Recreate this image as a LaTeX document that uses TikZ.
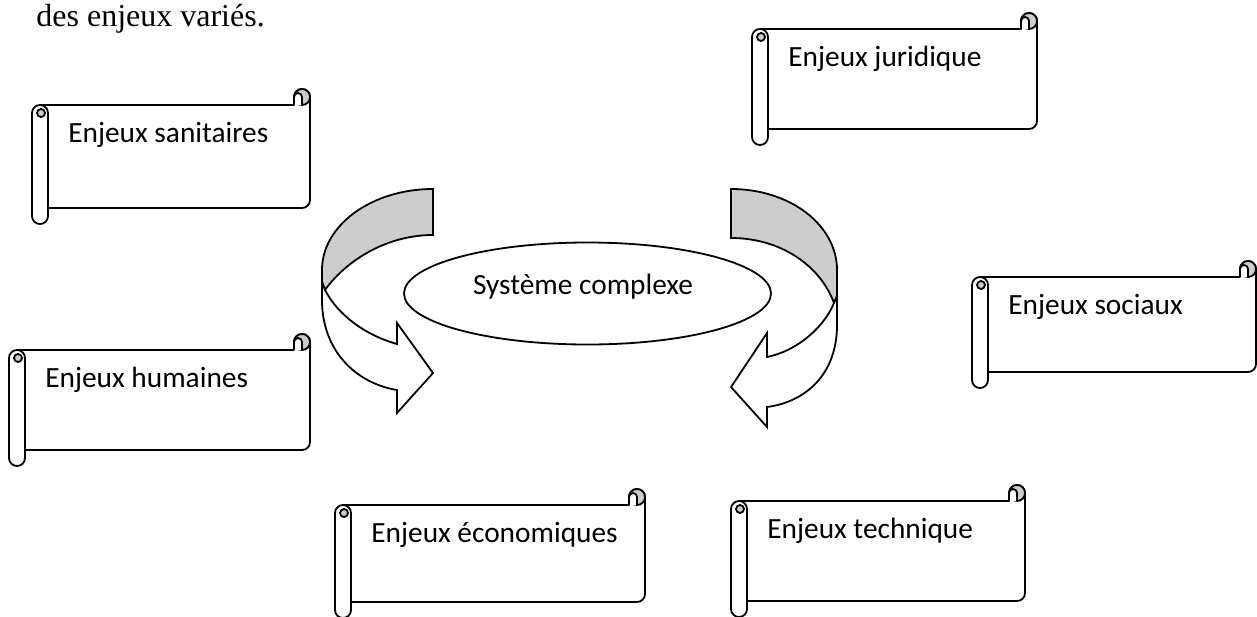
\documentclass[tikz,border=0pt]{standalone}
\usepackage{fontspec}
\setmainfont{Carlito}
\newfontfamily\timesfont{Liberation Serif}
\usetikzlibrary{shapes.geometric, positioning}
\definecolor{rollgray}{RGB}{205,205,205}

% parchemin : nom, gauche, haut, droite, bas, texte
\newcommand{\enjeuscroll}[6]{%
  % corps
  \filldraw[scrollline, fill=white] ({#2+8},#3) -- ({#4-16},#3) -- ({#4-16},{#3-8})
    .. controls ({#4-16},{#3-12.4}) and ({#4-12.4},{#3-16}) .. ({#4-8},{#3-16})
    .. controls ({#4-3.6},{#3-16}) and (#4,{#3-12.4}) .. (#4,{#3-8})
    -- (#4,{#5-8}) .. controls (#4,{#5-3.6}) and ({#4-3.6},#5) .. ({#4-8},#5)
    -- ({#2+8},#5) -- cycle;
  % boucle en haut a droite
  \filldraw[scrollline, fill=rollgray] ({#4-8},{#3-8}) circle[radius=8];
  \filldraw[scrollline, fill=white] ({#4-16},#3) -- ({#4-16},{#3-8})
    .. controls ({#4-16},{#3-10.2}) and ({#4-14.2},{#3-12}) .. ({#4-12},{#3-12})
    .. controls ({#4-9.8},{#3-12}) and ({#4-8},{#3-10.2}) .. ({#4-8},{#3-8})
    -- ({#4-8},#3);
  % rouleau a gauche
  \filldraw[scrollline, fill=white] (#2,{#3+8})
    .. controls (#2,{#3+3.6}) and ({#2+3.6},#3) .. ({#2+8},#3)
    .. controls ({#2+12.4},#3) and ({#2+16},{#3+3.6}) .. ({#2+16},{#3+8})
    -- ({#2+16},{#5+8})
    .. controls ({#2+16},{#5+12.4}) and ({#2+12.4},{#5+16}) .. ({#2+8},{#5+16})
    .. controls ({#2+3.6},{#5+16}) and (#2,{#5+12.4}) .. (#2,{#5+8}) -- cycle;
  \filldraw[scrollline, fill=rollgray] ({#2+9},{#3+8}) circle[radius=4];
  \node[scrolltext] (#1) at ({#2+36},{#3+37}) {#6};
}

\begin{document}
\begin{tikzpicture}[
    x=0.5pt, y=-0.5pt,
    scrollline/.style={line width=0.9pt, line join=round},
    scrolltext/.style={anchor=base west, inner sep=0pt, font=\fontsize{14.67}{17}\selectfont},
    turnarrow/.style={line width=0.9pt, line join=miter}
]
    \useasboundingbox (0,0) rectangle (1257,616);

    % Phrase du haut
    \node[anchor=base west, inner sep=0pt, font=\timesfont\fontsize{16}{19}\selectfont] (intro) at (36,26) {des enjeux variés.};

    % Parchemins
    \enjeuscroll{san}{32}{105}{310}{208}{Enjeux sanitaires}
    \enjeuscroll{jur}{752}{29}{1037}{129}{Enjeux juridique}
    \enjeuscroll{soc}{972}{277}{1256}{372}{Enjeux sociaux}
    \enjeuscroll{hum}{9}{350}{310}{450}{Enjeux humaines}
    \enjeuscroll{eco}{335}{505}{645}{602}{Enjeux économiques}
    \enjeuscroll{tech}{731}{501}{1025}{601}{Enjeux technique}

    % Systeme
    \node[ellipse, draw, line width=0.9pt, minimum width=183.5pt, minimum height=51pt, inner sep=0pt] (sys) at (587.5,293.5) {};
    \node[scrolltext, anchor=base] (systxt) at (583,294) {Système complexe};

    % Fleche courbe gauche
    \filldraw[turnarrow, fill=rollgray] (433,189) .. controls (372,189) and (322,225) .. (322,270)
        -- (322,282) -- (325,290) .. controls (345,262) and (385,235) .. (433,235) -- cycle;
    \filldraw[turnarrow, fill=white] (322,270) -- (322,300) .. controls (322,350) and (355,383) .. (397,390)
        -- (397,413) -- (433,373) -- (397,323) -- (397,344)
        .. controls (365,335) and (338,315) .. (325,290) -- (322,282) -- cycle;

    % Fleche courbe droite
    \filldraw[turnarrow, fill=rollgray] (731,189) .. controls (790,189) and (837,225) .. (837,270)
        -- (837,296) -- (834,303) .. controls (820,265) and (780,238) .. (731,238) -- cycle;
    \filldraw[turnarrow, fill=white] (837,296) -- (837,325) .. controls (837,375) and (805,402) .. (767,407)
        -- (767,427) -- (731,387) -- (767,333) -- (767,357)
        .. controls (800,350) and (825,325) .. (834,303) -- cycle;
\end{tikzpicture}
\end{document}
